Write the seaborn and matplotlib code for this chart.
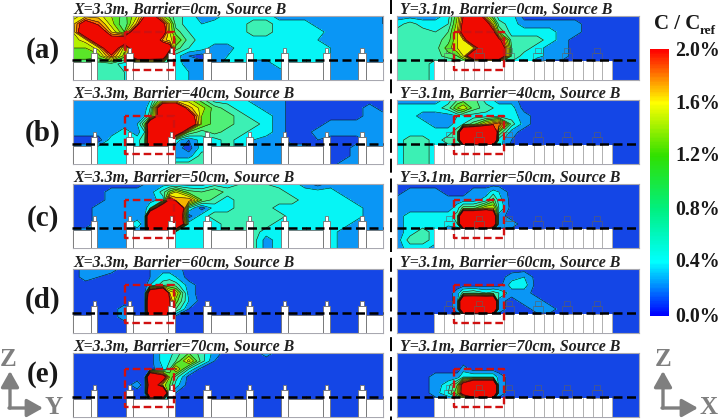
import numpy as np
import matplotlib
matplotlib.use("Agg")
import matplotlib.pyplot as plt
from matplotlib.colors import LinearSegmentedColormap, ListedColormap, BoundaryNorm
from matplotlib.patches import Rectangle
import seaborn as sns

# concentration fields, unit 0.1 % of C/Cref, rows top->bottom (values above 20 saturate)
left_a = [
 [13,15,15,12,9,14,20,25,12,9,7,5,3,3,5,5,5,5,3,3,3,3,3,3,3,3,2],
 [15,24,19,13,8,17,30,30,22,14,7,5,4,5,5,5,7,7,5,5,5,3,3,3,3,3,2],
 [14,28,26,16,10,30,30,30,24,14,9,6,5,5,5,5,7,7,5,5,5,5,3,3,3,3,3],
 [13,15,28,24,28,30,30,30,17,15,12,7,5,5,5,5,5,5,5,5,5,4,3,3,3,3,3],
 [12,12,15,28,13,30,30,30,28,24,9,6,5,3,3,5,5,5,5,5,5,5,4,3,3,3,3],
 [12,12,11,19,11,30,30,30,28,8,5,2,1,3,4,5,5,5,5,5,5,5,4,3,3,3,3],
 [7,7,7,7,5,5,5,5,5,5,5,3,3,3,5,5,3,3,5,5,5,5,3,3,3,3,3],
 [7,7,7,7,6,5,5,5,5,5,5,4,3,3,5,5,3,3,3,5,5,5,3,3,3,3,3],
 [7,7,7,7,6,5,5,5,5,5,5,4,3,3,5,5,3,3,3,5,5,5,3,3,3,3,3],
]
left_b = [
 [3,3,3,3,3,3,3,4,13,14,14,13,9,5,5,5,3,3,3,1,1,1,1,1,1,1,1],
 [3,3,3,3,3,3,3,6,30,30,30,17,13,9,7,5,5,3,3,1,1,1,1,1,1,3,1],
 [3,3,3,3,3,3,4,7,30,30,30,26,12,9,9,7,5,5,3,1,1,1,1,1,1,3,3],
 [3,3,3,3,3,4,10,30,30,30,30,30,12,9,9,7,7,5,3,1,1,1,3,3,3,3,3],
 [3,3,3,3,5,3,6,30,30,30,30,10,7,9,7,7,5,5,3,1,1,3,3,3,3,3,3],
 [1,1,1,5,5,5,8,30,30,22,5,2,5,5,7,5,4,3,3,1,1,2,1,1,1,3,3],
 [3,3,5,5,5,5,8,30,30,22,3,1,5,5,7,5,4,4,3,3,3,1,1,1,3,3,3],
 [3,3,5,5,5,5,5,5,5,5,3,3,7,7,7,5,4,4,3,3,3,1,1,1,3,3,3],
 [3,3,5,5,5,5,5,5,5,5,7,7,7,7,7,5,4,3,3,3,3,1,1,3,3,3,3],
]
left_c = [
 [1,1,1,1,1,1,2,3,3,3,3,3,3,5,5,6,6,6,5,5,3,1,3,3,3,3,3],
 [1,1,1,3,3,3,3,3,7,11,14,9,8,10,7,7,7,7,7,5,5,5,5,3,3,3,3],
 [1,1,1,3,3,3,3,3,5,22,17,18,10,7,5,7,7,7,7,7,5,5,5,5,3,3,3],
 [1,1,3,3,3,3,3,6,34,40,40,6,1,5,5,7,7,7,5,5,5,5,5,5,5,3,3],
 [1,1,3,3,3,3,3,40,40,40,40,1,5,7,7,7,7,7,7,5,5,5,5,5,5,3,3],
 [1,1,3,3,3,5,3,40,40,40,40,5,5,5,7,7,7,7,5,5,5,5,5,5,3,3,3],
 [3,3,3,3,3,3,3,30,30,30,5,5,5,5,7,7,7,5,5,5,5,5,5,3,3,3,3],
 [3,3,3,3,3,3,3,5,5,5,5,5,5,5,7,7,7,3,5,5,5,5,5,3,3,3,3],
 [3,3,3,3,3,3,3,5,5,5,5,5,5,5,7,7,7,3,5,5,5,5,5,3,3,3,3],
]
left_d = [
 [1,3,3,3,1,1,1,2,3,3,3,1],
 [1,3,2,1,1,1,1,2,5,5,4,1],
 [1,1,1,1,1,1,1,4,7,8,7,3],
 [1,1,1,1,1,1,1,30,40,16,14,3],
 [1,1,1,1,1,1,1,40,40,20,11,4],
 [1,1,1,1,3,1,1,40,40,21,8,2],
 [1,1,1,1,3,1,1,30,30,5,1],
 [1],
 [1],
]
left_e = [
 [1,1,1,1,1,1,1,1,5,5,7,10,7,3,1,1,1,3,1],
 [1,1,1,1,1,1,1,1,5,6,8,15,7,2],
 [1,1,1,1,1,1,1,1,4,8,15,6,1],
 [1,1,1,1,1,1,1,40,25,12,7,1],
 [1,1,1,1,1,3,1,30,13,10,5,1],
 [1,1,1,1,1,1,1,40,40,6,2,1],
 [1,1,1,1,1,1,1,5,5,1],
 [1],
 [1],
]
right_a = [
 [3,3,3,3,5,12,20,30,14,8,5,5,1],
 [5,7,5,5,6,13,22,30,24,14,7,5,3,3,3,3,3,1],
 [7,8,7,6,8,14,24,30,30,22,10,5,5,5,5,3,3,1],
 [6,7,7,7,9,14,16,30,30,26,22,7,7,7,5,3,1],
 [7,7,7,7,11,14,16,15,30,30,30,8,7,5,3,3,1],
 [7,7,7,7,9,10,14,30,30,30,30,8,5,5,3,3,1],
 [7,7,7,5,5,5,5,5,5,5,5,5,5,1],
 [7,7,7,5],
 [7,7,7,5],
]
right_b = [
 [3,3,3,3,5,8,9,9,5,4,3,3,1],
 [5,5,5,5,7,12,14,9,7,6,5,5,1],
 [5,5,3,3,3,4,5,5,5,5,5,5,3,1],
 [5,5,5,3,3,5,6,9,15,18,20,7,3,1],
 [5,5,5,5,5,7,40,40,40,40,10,3,1],
 [5,7,7,5,7,7,40,40,40,40,5,2,1],
 [5,7,7,5,5,5,5,5,5,5,5,1],
 [5,7,7,5],
 [5,7,7,5],
]
right_c = [
 [1],
 [1,3,3,3,1,1,1,3,3,5,4,1],
 [3,3,3,3,3,3,3,3,5,9,5,1],
 [3,3,3,3,3,5,9,9,14,14,6,1],
 [3,5,5,5,5,7,40,40,40,30,3,1],
 [3,5,5,6,5,6,40,40,40,30,3,3,1],
 [3,5,7,5,1],
 [3,7,7,5,1],
 [3,5,5,3,1],
]
right_d = [
 [1],
 [1,1,1,1,1,1,1,1,1,1,1,3,4,1],
 [1,1,1,1,1,1,1,1,1,1,1,5,5,1],
 [1,1,1,1,1,3,7,8,6,7,6,3,3,1],
 [1,1,1,1,1,3,40,40,40,40,3,1,3,3,1],
 [1,1,1,1,1,3,40,40,40,40,3,1,1,3,3,1],
 [1],
 [1],
 [1],
]
right_e = [
 [1],
 [1],
 [1,1,1,1,1,1,3,1],
 [1,1,1,3,3,3,6,6,6,6,3,1],
 [1,1,1,3,5,10,25,40,40,40,3,1],
 [1,1,1,3,6,12,25,40,40,40,3,1],
 [1],
 [1],
 [1],
]
left_x = [0, 12.9, 25.8, 38.7, 51.6, 64.5, 72, 77.4, 90.3, 97, 103.2, 116.1, 129, 141.9, 154.8,
          167.7, 180.6, 193.5, 206.4, 219.3, 232.2, 245.1, 258, 270.9, 283.8, 296.7, 310]
right_x = [0, 12.7, 25.4, 38.1, 50.8, 60, 66, 76.2, 88.9, 96, 101.6, 114.3, 127, 139.7, 152.4,
           165.1, 177.8, 190.5, 203.2, 215.9, 228.6, 241.7]
left_titles = ["X=3.3m, Barrier=0cm, Source B", "X=3.3m, Barrier=40cm, Source B",
               "X=3.3m, Barrier=50cm, Source B", "X=3.3m, Barrier=60cm, Source B",
               "X=3.3m, Barrier=70cm, Source B"]
right_titles = ["Y=3.1m, Barrier=0cm, Source B", "Y=3.1m, Barrier=40cm, Source B",
                "Y=3.1m, Barrier=50cm, Source B", "Y=3.1m, Barrier=60cm, Source B",
                "Y=3.1m, Barrier=70cm, Source B"]
row_labels = ["(a)", "(b)", "(c)", "(d)", "(e)"]
bar_labels = ["2.0%", "1.6%", "1.2%", "0.8%", "0.4%", "0.0%"]
band_edges = [0, 2, 4, 6, 8, 10, 12, 14, 16, 18, 20, 99]
band_colors = ["#1446e6", "#0a96f5", "#06f5f5", "#3cf0b4", "#50f078", "#5ae628",
               "#b4f000", "#f0f000", "#f5b400", "#f56e00", "#f00a00"]
bar_stops = ["#0000ff", "#00ffff", "#00f080", "#30e000", "#ffff00", "#ff0000"]

W, H = 720, 420
sns.set_theme(style="white")
plt.rcParams["font.family"] = ["Liberation Serif", "DejaVu Serif"]
fig = plt.figure(figsize=(7.2, 4.2), dpi=100)
bg = fig.add_axes([0, 0, 1, 1], zorder=5)
bg.set_xlim(0, W); bg.set_ylim(H, 0); bg.axis("off"); bg.patch.set_alpha(0)

cmap = ListedColormap(band_colors)
norm = BoundaryNorm(band_edges, cmap.N)
tops = [16, 100, 184, 269, 353]
PH = 64

def axes_px(x0, y0, w, h):
    return fig.add_axes([x0 / W, 1 - (y0 + h) / H, w / W, h / H])

def field(ax, rows, xs):
    n = len(xs)
    Z = np.array([r + [1] * (n - len(r)) for r in rows], float)
    y = np.linspace(0, PH, 9)
    ax.contourf(xs, y, Z, levels=band_edges, cmap=cmap, norm=norm)
    ax.contour(xs, y, Z, levels=band_edges[1:-1], colors="#101010", linewidths=0.4)
    ax.set_xlim(0, xs[-1]); ax.set_ylim(PH, 0)
    ax.set_xticks([]); ax.set_yticks([])
    for s in ax.spines.values():
        s.set_edgecolor("#a8a8b0"); s.set_linewidth(0.8)

def left_struct(ax):
    kw = dict(fc="white", ec="#707070", lw=0.6, zorder=3)
    for a, b in [(0, 18), (60, 95), (138, 173), (215, 250), (293, 311)]:
        ax.add_patch(Rectangle((a, PH - 18), b - a, 18, **kw))
    for a, b in [(18, 24.7), (53.3, 60), (95, 102.3), (130.7, 138),
                 (173, 180), (208.3, 215), (250, 257.3), (285.7, 293)]:
        ax.add_patch(Rectangle((a, PH - 27), b - a, 27, **kw))
        ax.add_patch(Rectangle((a + 1.8, PH - 32), b - a - 3.6, 5, **kw))
    for v in [155.7, 233]:
        ax.plot([v, v], [43, PH - 18], color="#303030", lw=0.5, zorder=2.5)

def right_struct(ax):
    ax.add_patch(Rectangle((37, PH - 19.5), 177.3, 19.5, fc="white", ec="none", zorder=3))
    for v in [37, 47, 57, 66.3, 77, 87, 106.3, 116, 136.3, 146.3, 155.3, 165.3,
              175.3, 185.3, 195.3, 205, 214.3]:
        ax.plot([v, v], [PH - 19.5, PH], color="#b0b0b0", lw=0.7, zorder=4)
    for v in [37, 126, 156, 185, 214.3]:
        ax.plot([v, v], [43, PH - 19.5], color="#404040", lw=0.4, zorder=2.5)
    for c in [52, 82, 112, 141, 170, 200]:
        ax.add_patch(Rectangle((c - 3, PH - 32), 6, 5, fc="none", ec="#606060", lw=0.4, zorder=4))
        ax.add_patch(Rectangle((c - 5, PH - 27), 10, 7.5, fc="none", ec="#606060", lw=0.4, zorder=4))

def overlays(ax, x0, x1):
    ax.plot([x0, x0, x1, x1, x0], [16, 54, 54, 16, 16], color="#d01010", lw=1.7,
            ls=(0, (3.2, 1.6)), zorder=6)

left_fields = [left_a, left_b, left_c, left_d, left_e]
right_fields = [right_a, right_b, right_c, right_d, right_e]
for i, top in enumerate(tops):
    la = axes_px(72.7, top, 310, PH)
    field(la, left_fields[i], left_x); left_struct(la); overlays(la, 52.3, 101.7)
    ra = axes_px(397.3, top, 241.7, PH)
    field(ra, right_fields[i], right_x); right_struct(ra); overlays(ra, 57, 106.7)
    bg.plot([72, 383], [top + 43.5] * 2, color="black", lw=1.8, ls=(0, (3.6, 1.8)))
    bg.plot([397, 639], [top + 43.5] * 2, color="black", lw=1.8, ls=(0, (3.6, 1.8)))
    bg.text(73, top + 1.5, left_titles[i], fontsize=11.4, fontweight="bold", fontstyle="italic",
            color="#202020", va="bottom", ha="left")
    bg.text(400, top + 1.5, right_titles[i], fontsize=11.4, fontweight="bold", fontstyle="italic",
            color="#202020", va="bottom", ha="left")
for lab, y in zip(row_labels, [50, 133, 218, 300, 375]):
    bg.text(43, y, lab, fontsize=21, fontweight="bold", color="#181818", ha="center", va="center")

bg.plot([390.5, 390.5], [0, 420], color="black", lw=1.4, ls=(0, (7.2, 3)))

# colour bar
cb = axes_px(650, 49, 18.5, 267)
grad = LinearSegmentedColormap.from_list("bar", bar_stops)
col = np.linspace(20, 0, 200).reshape(-1, 1)
sns.heatmap(col, ax=cb, cmap=grad, vmin=0, vmax=20, cbar=False, xticklabels=False, yticklabels=False)
for lab, y in zip(bar_labels, [51, 104, 156, 210, 262, 317]):
    bg.text(675, y, lab, fontsize=14.3, fontweight="bold", color="#181818", ha="left", va="center")
bg.text(654, 24, "C / C", fontsize=15, fontweight="bold", color="#181818", ha="left", va="center")
bg.text(700, 31, "ref", fontsize=9.5, fontweight="bold", color="#181818", ha="left", va="center")

# direction triads
grey = "#7f7f7f"
for ox, end, lab, lx in [(10, 43, "Y", 54), (663, 698, "X", 709)]:
    bg.annotate("", xy=(ox, 371), xytext=(ox, 408),
                arrowprops=dict(arrowstyle="-|>,head_width=0.45,head_length=0.8", color=grey, lw=2.4, shrinkB=0, shrinkA=0))
    bg.annotate("", xy=(end, 408), xytext=(ox - 1, 408),
                arrowprops=dict(arrowstyle="-|>,head_width=0.45,head_length=0.8", color=grey, lw=2.4, shrinkB=0, shrinkA=0))
    bg.text(lx, 407, lab, fontsize=18, fontweight="bold", color=grey, ha="center", va="center")
    bg.text(ox - 2 if ox < 100 else ox, 360, "Z", fontsize=18, fontweight="bold", color=grey, ha="center", va="center")

fig.savefig("out.png", dpi=100)
